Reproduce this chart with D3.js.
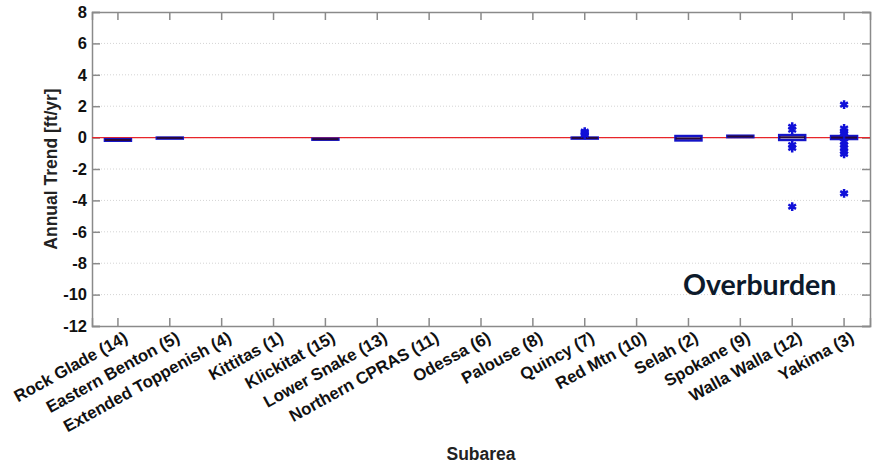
<!DOCTYPE html>
<html>
<head>
<meta charset="utf-8">
<script src="https://cdn.jsdelivr.net/npm/d3@7"></script>
<style>
  body { margin: 0; background: #fff; }
  text { font-family: Arial, "Liberation Sans", sans-serif; }
</style>
</head>
<body>
<div id="chart"></div>
<script>
// subareas along the x axis
var subareas = ["Rock Glade (14)", "Eastern Benton (5)", "Extended Toppenish (4)", "Kittitas (1)",
  "Klickitat (15)", "Lower Snake (13)", "Northern CPRAS (11)", "Odessa (6)", "Palouse (8)",
  "Quincy (7)", "Red Mtn (10)", "Selah (2)", "Spokane (9)", "Walla Walla (12)", "Yakima (3)"]

// box stats per subarea [whiskerLow, q1, median, q3, whiskerHigh], null = no wells
var boxStats = [
  [-0.22, -0.2, -0.15, -0.1, -0.08],
  [-0.04, -0.03, -0.02, 0.0, 0.01],
  null, null,
  [-0.14, -0.13, -0.1, -0.07, -0.06],
  null, null, null, null,
  [-0.06, -0.05, -0.02, 0.0, 0.05],
  null,
  [-0.22, -0.18, -0.05, 0.1, 0.14],
  [0.02, 0.03, 0.07, 0.12, 0.14],
  [-0.3, -0.15, 0.02, 0.16, 0.32],
  [-0.15, -0.09, 0.0, 0.1, 0.18]
]

// outliers per subarea
var outliers = [
  [], [], [], [], [], [], [], [], [],
  [0.18, 0.28, 0.38],
  [], [], [],
  [0.69, 0.5, -0.47, -0.66, -4.4],
  [2.1, 0.58, 0.4, 0.27, -0.27, -0.47, -0.66, -0.88, -1.04, -3.55]
]

var yTicks = [8, 6, 4, 2, 0, -2, -4, -6, -8, -10, -12]

var W = 873, H = 466
var margin = {left: 92, right: 3, top: 12, bottom: 140}

var svg = d3.select("#chart").append("svg")
  .attr("width", W).attr("height", H)

var x = d3.scaleBand()
  .domain(subareas)
  .range([margin.left, W - margin.right])
var y = d3.scaleLinear()
  .domain([-12, 8])
  .range([H - margin.bottom, margin.top])

var x0 = margin.left, x1 = W - margin.right
var y0 = margin.top, y1 = H - margin.bottom

// dotted grid
svg.append("g")
  .selectAll("line")
  .data(yTicks.filter(d => d > -12 && d < 8))
  .enter().append("line")
  .attr("x1", x0).attr("x2", x1)
  .attr("y1", d => y(d)).attr("y2", d => y(d))
  .attr("stroke", "#d4d4d4")
  .attr("stroke-dasharray", "1,2")

// axes (mirrored, ticks inward)
var axisColor = "#8a8a8a"
var yAxis = svg.append("g")
  .attr("transform", `translate(${x0},0)`)
  .call(d3.axisLeft(y).tickValues(yTicks).tickSize(-8).tickPadding(5).tickFormat(d3.format("d")))
yAxis.selectAll("text")
  .style("font-size", "16.5px").style("font-weight", "bold").attr("fill", "#111")
  .text(d => d < 0 ? "-" + Math.abs(d) : d)

svg.append("g")
  .attr("transform", `translate(${x1},0)`)
  .call(d3.axisRight(y).tickValues(yTicks).tickSize(-8).tickFormat(""))

svg.append("g")
  .attr("transform", `translate(0,${y1})`)
  .call(d3.axisBottom(x).tickSize(-8).tickFormat(""))

svg.append("g")
  .attr("transform", `translate(0,${y0})`)
  .call(d3.axisTop(x).tickSize(-8).tickFormat(""))

svg.selectAll(".domain, .tick line")
  .attr("stroke", axisColor).attr("stroke-width", 1.5)

// rotated category labels
svg.append("g")
  .selectAll("text")
  .data(subareas)
  .enter().append("text")
  .attr("transform", d => `translate(${x(d) + x.bandwidth() / 2 + 11},${y1 + 15}) rotate(-29)`)
  .attr("text-anchor", "end")
  .style("font-size", "16.8px").style("font-weight", "bold").attr("fill", "#111")
  .text(d => d)

// zero line
svg.append("line")
  .attr("x1", x0).attr("x2", x1)
  .attr("y1", y(0)).attr("y2", y(0))
  .attr("stroke", "#e8252a").attr("stroke-width", 1.2)

// boxes
var bw = 26
var boxes = svg.append("g")
  .selectAll("g")
  .data(boxStats.map((s, i) => ({name: subareas[i], s: s})).filter(d => d.s))
  .enter().append("g")
  .attr("transform", d => `translate(${x(d.name) + x.bandwidth() / 2},0)`)

boxes.append("line")
  .attr("y1", d => y(d.s[0])).attr("y2", d => y(d.s[1]))
  .attr("stroke", "#1414c8").attr("stroke-width", 1.5)
boxes.append("line")
  .attr("y1", d => y(d.s[3])).attr("y2", d => y(d.s[4]))
  .attr("stroke", "#1414c8").attr("stroke-width", 1.5)
boxes.append("rect")
  .attr("x", -bw / 2).attr("width", bw)
  .attr("y", d => y(d.s[3]))
  .attr("height", d => Math.max(y(d.s[1]) - y(d.s[3]), 1))
  .attr("fill", "#fff")
  .attr("stroke", "#1414c8").attr("stroke-width", 2.5)
boxes.append("line")
  .attr("x1", -bw / 2).attr("x2", bw / 2)
  .attr("y1", d => y(d.s[2])).attr("y2", d => y(d.s[2]))
  .attr("stroke", "#2a0838").attr("stroke-width", 2)

// outlier asterisks
var star = d3.symbol().type(d3.symbolAsterisk).size(55)
var pts = []
outliers.forEach((arr, i) => arr.forEach(v => pts.push({name: subareas[i], v: v})))
svg.append("g")
  .selectAll("path")
  .data(pts)
  .enter().append("path")
  .attr("d", star)
  .attr("transform", d => `translate(${x(d.name) + x.bandwidth() / 2},${y(d.v)})`)
  .attr("fill", "none")
  .attr("stroke", "#1010d8").attr("stroke-width", 2.5)

// axis titles
svg.append("text")
  .attr("transform", `translate(51,${(y0 + y1) / 2}) rotate(-90)`)
  .attr("text-anchor", "middle").attr("dy", "0.35em")
  .style("font-size", "17.5px").style("font-weight", "bold").attr("fill", "#222")
  .text("Annual Trend [ft/yr]")

svg.append("text")
  .attr("x", (x0 + x1) / 2).attr("y", 460)
  .attr("text-anchor", "middle")
  .style("font-size", "17.5px").style("font-weight", "bold").attr("fill", "#222")
  .text("Subarea")

svg.append("text")
  .attr("x", 683).attr("y", 295)
  .style("font-family", "Lato, 'Open Sans', sans-serif")
  .style("font-size", "28.5px").style("font-weight", "bold").attr("fill", "#0d1a2b")
  .text("Overburden")
</script>
</body>
</html>
